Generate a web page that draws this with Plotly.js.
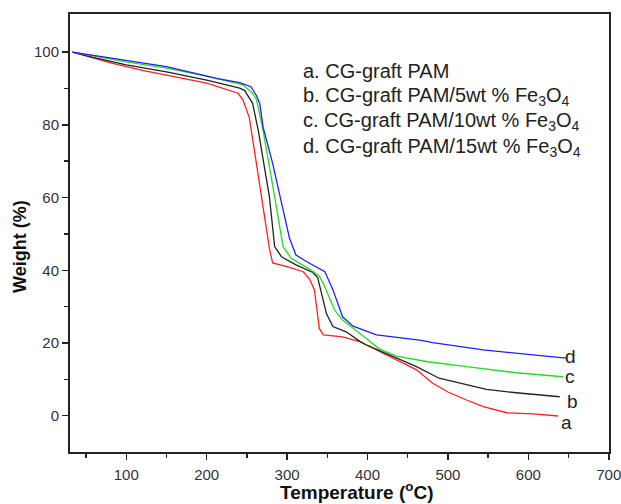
<!DOCTYPE html>
<html>
<head>
<meta charset="utf-8">
<script src="https://cdn.plot.ly/plotly-3.0.1.min.js"></script>
<style>html,body{margin:0;padding:0;background:#fff;}#chart{width:621px;height:504px;}</style>
</head>
<body>
<div id="chart"></div>
<script>
// a. CG-graft PAM (red)
const tempA = [33, 50, 83, 120, 150, 200, 239, 245, 253, 260, 268, 278, 282, 300, 320, 328, 334, 340, 345, 369, 390, 415, 436, 461, 481, 500, 523, 544, 573, 606, 637];
const wtA   = [100, 99, 96.9, 95, 93.7, 91.5, 88.7, 86.9, 82, 72, 60, 46, 42, 41, 39.6, 37.5, 34.6, 24, 22.2, 21.7, 20.4, 17.6, 15.3, 12.6, 8.9, 6.5, 4.3, 2.5, 0.8, 0.5, -0.1];
// b. CG-graft PAM/5wt % Fe3O4 (black)
const tempB = [33, 60, 100, 150, 200, 241, 247, 257, 264, 278, 284.5, 293, 311, 332, 338, 349, 357, 374, 390, 398, 427, 461, 489, 523, 548, 585, 639];
const wtB   = [100, 98.5, 96.5, 94.6, 92.3, 90.1, 89.5, 86, 78.6, 60.2, 46.5, 43.7, 41.5, 39.4, 38, 28, 24.5, 23, 20.5, 19.5, 16.7, 13.5, 10.3, 8.4, 7.2, 6.3, 5.2];
// c. CG-graft PAM/10wt % Fe3O4 (green)
const tempC = [33, 70, 100, 150, 200, 245, 257, 262, 270, 284.5, 295, 305, 328, 340, 345, 359, 369, 390, 415, 436, 473, 523, 585, 643];
const wtC   = [100, 98.5, 97.3, 95.6, 93.4, 91, 88.7, 86.9, 78.6, 60.2, 46.5, 43.3, 40.3, 38.4, 36.4, 29.1, 26.3, 22.7, 18.3, 16.4, 14.9, 13.5, 11.8, 10.7];
// d. CG-graft PAM/15wt % Fe3O4 (blue)
const tempD = [33, 67, 100, 150, 212, 241, 255, 262, 266, 270, 282, 291, 299, 303, 311, 324, 347, 357, 369, 382, 411, 465, 481, 544, 606, 647];
const wtD   = [100, 98.8, 97.8, 96, 92.8, 91.6, 90.5, 88, 85.9, 79.5, 69.4, 60.2, 52.9, 48.8, 44.2, 42.4, 39.6, 34.6, 27.2, 24.6, 22.2, 20.8, 20.1, 18.1, 16.7, 15.8];

const xTitle = '<b>Temperature (<sup>o</sup>C)</b>';
const yTitle = '<b>Weight (%)</b>';
const legendLines = [
  'a. CG-graft PAM',
  'b. CG-graft PAM/5wt % Fe<sub>3</sub>O<sub>4</sub>',
  'c. CG-graft PAM/10wt % Fe<sub>3</sub>O<sub>4</sub>',
  'd. CG-graft PAM/15wt % Fe<sub>3</sub>O<sub>4</sub>'
];
const endLabels = ['a', 'b', 'c', 'd'];
const endLabelX = [647, 655, 652, 653];
const endLabelY = [-1.9, 3.9, 10.9, 16.2];

const colors = ['#ff2020', '#222222', '#22dd22', '#2020ff'];
const xs = [tempA, tempB, tempC, tempD];
const ys = [wtA, wtB, wtC, wtD];

const traces = xs.map((x, i) => ({
  x: x, y: ys[i], type: 'scatter', mode: 'lines',
  line: {color: colors[i], width: 1.3}, showlegend: false, hoverinfo: 'skip'
}));

const FONT = 'Liberation Sans, Arial, sans-serif';
const annotations = [];
legendLines.forEach((t, i) => {
  annotations.push({
    xref: 'paper', yref: 'paper', x: 0.428, y: 0.870 - i * 0.058,
    xanchor: 'left', yanchor: 'middle', text: t, showarrow: false,
    font: {family: FONT, size: 20, color: '#222'}
  });
});
endLabels.forEach((t, i) => {
  annotations.push({
    xref: 'x', yref: 'y', x: endLabelX[i], y: endLabelY[i],
    xanchor: 'center', yanchor: 'middle', text: t, showarrow: false,
    font: {family: FONT, size: 19, color: '#222'}
  });
});
annotations.push({
  xref: 'paper', yref: 'paper', x: 0.531, y: -0.089,
  xanchor: 'center', yanchor: 'middle', text: xTitle, showarrow: false,
  font: {family: FONT, size: 19, color: '#111'}
});
annotations.push({
  xref: 'paper', yref: 'paper', x: -0.093, y: 0.47, textangle: -90,
  xanchor: 'center', yanchor: 'middle', text: yTitle, showarrow: false,
  font: {family: FONT, size: 18, color: '#111'}
});

const layout = {
  width: 621, height: 504,
  margin: {l: 70, r: 12, t: 14, b: 52},
  paper_bgcolor: '#fff', plot_bgcolor: '#fff',
  font: {family: FONT, color: '#333'},
  xaxis: {
    range: [30, 700.3], tickvals: [100, 200, 300, 400, 500, 600, 700],
    ticks: 'outside', ticklen: 6, tickwidth: 1.5, tickcolor: '#222',
    minor: {tickvals: [50, 150, 250, 350, 450, 550, 650], ticks: 'outside', ticklen: 4, tickwidth: 1.5, tickcolor: '#222'},
    showline: true, linecolor: '#222', linewidth: 2, mirror: true,
    showgrid: false, zeroline: false, ticklabelstandoff: 2,
    ticklabeloverflow: 'allow',
    tickfont: {size: 15, color: '#333'}
  },
  yaxis: {
    range: [-10, 110.5], tickvals: [0, 20, 40, 60, 80, 100],
    ticks: 'outside', ticklen: 6, tickwidth: 1.5, tickcolor: '#222',
    minor: {tickvals: [10, 30, 50, 70, 90], ticks: 'outside', ticklen: 4, tickwidth: 1.5, tickcolor: '#222'},
    showline: true, linecolor: '#222', linewidth: 2, mirror: true,
    showgrid: false, zeroline: false, ticksuffix: '\u2009\u2009',
    tickfont: {size: 15, color: '#333'}
  },
  annotations: annotations
};

Plotly.newPlot('chart', traces, layout, {staticPlot: true, displayModeBar: false});
</script>
</body>
</html>
